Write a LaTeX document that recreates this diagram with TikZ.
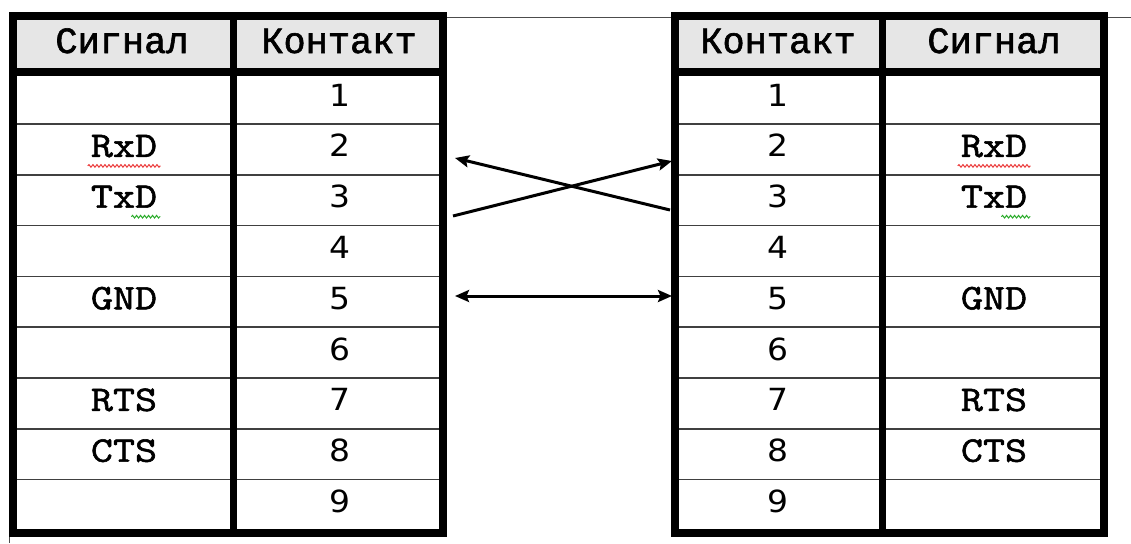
\documentclass[tikz,border=0pt]{standalone}
\usepackage{fontspec}
\newfontfamily\cyr{Liberation Mono}[FakeBold=1.6]
\newfontfamily\lat{Latin Modern Mono}[FakeStretch=1.19, FakeBold=1.6]
\newfontfamily\verd{DejaVu Sans}[FakeStretch=1.08]
\usetikzlibrary{arrows.meta,decorations.pathmorphing,calc}
\definecolor{hdrgray}{RGB}{230,230,230}
\definecolor{spellred}{RGB}{235,60,60}
\definecolor{spellgreen}{RGB}{40,170,40}
\tikzset{
  border/.style={line width=8pt, line join=miter},
  divider/.style={line width=7pt},
  rowline/.style={line width=1.5pt, black!75},
  pageline/.style={line width=1pt, black!70},
  hdr/.style={font=\cyr\fontsize{37}{37}\selectfont, anchor=base, inner sep=0pt},
  sig/.style={font=\lat\fontsize{36}{36}\selectfont, anchor=base, inner sep=0pt},
  num/.style={font=\verd\fontsize{30.5}{30.5}\selectfont, anchor=base, inner sep=0pt},
  wire/.style={line width=3pt, -{Stealth[length=14pt,width=12pt,inset=2.5pt]}},
  wire2/.style={line width=3pt, {Stealth[length=14pt,width=12pt,inset=2.5pt]}-{Stealth[length=14pt,width=12pt,inset=2.5pt]}},
  squig/.style={line width=1pt, decorate, decoration={snake, amplitude=1.3pt, segment length=4pt}}
}
\begin{document}
\begin{tikzpicture}[x=1pt,y=-1pt]
\useasboundingbox (0,0) rectangle (1131,543);
% page lines
\draw[pageline] (443,18) -- (1131,18);
\draw[pageline] (9,528) -- (9,543);
% tables
\foreach \xa/\xd/\xb in {13/233.5/443, 674.5/882.5/1103.5}{
  \fill[hdrgray] (\xa,16) rectangle (\xb,71);
  \foreach \y in {124,174.8,225.6,276.4,327.2,378,428.8,479.6}
    \draw[rowline] (\xa,\y) -- (\xb,\y);
  \draw[border] (\xa,16) rectangle (\xb,533);
  \draw[border] (\xa,71.5) -- (\xb,71.5);
  \draw[divider] (\xd,16) -- (\xd,533);
}
% headers
\node[hdr] (Lh1) at (122,53) {Сигнал};
\node[hdr] (Lh2) at (339,53) {Контакт};
\node[hdr] (Rh1) at (778,53) {Контакт};
\node[hdr] (Rh2) at (994,53) {Сигнал};
% numbers
\foreach \k in {1,...,9}{
  \node[num] (Ln\k) at (340,{149.4+50.8*(\k-2)+7.5}) {\k};
  \node[num] (Rn\k) at (778,{149.4+50.8*(\k-2)+7.5}) {\k};
}
% signals
\foreach \k/\s/\nm in {2/RxD/rx,3/TxD/tx,5/GND/gnd,7/RTS/rts,8/CTS/cts}{
  \node[sig] (L\nm) at (124,{149.4+50.8*(\k-2)+7.5}) {\s};
  \node[sig] (R\nm) at (994,{149.4+50.8*(\k-2)+7.5}) {\s};
}
% spelling squiggles
\foreach \side in {L,R}{
  \draw[squig, spellred] ($(\side rx.base west)+(-3,9)$) -- ($(\side rx.base east)+(3,9)$);
  \draw[squig, spellgreen] ($(\side tx.base east)+(-26,9)$) -- ($(\side tx.base east)+(3,9)$);
}
% connectors
\coordinate (a2) at (455,158);
\coordinate (a3) at (453,216);
\coordinate (b2) at (672,161);
\coordinate (b3) at (670,210);
\coordinate (a5) at (455,296);
\coordinate (b5) at (672,296);
\draw[wire] (b3) -- (a2);
\draw[wire] (a3) -- (b2);
\draw[wire2] (a5) -- (b5);
\end{tikzpicture}
\end{document}
